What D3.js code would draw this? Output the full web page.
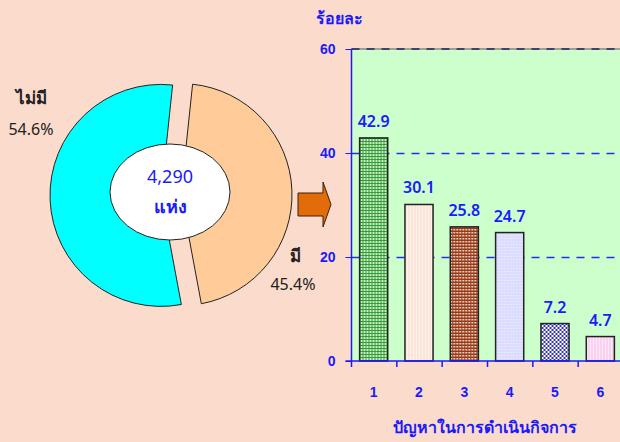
<!DOCTYPE html>
<html>
<head>
<meta charset="utf-8">
<script src="https://cdn.jsdelivr.net/npm/d3@7"></script>
<style>
  body { margin: 0; background: #fbdbcb; }
  svg { display: block; font-family: Tahoma, "Noto Sans", "DejaVu Sans", sans-serif; }
  .axis path, .axis line { stroke: #1a1aff; }
  .axis text { fill: #1a1aff; font-weight: bold; font-size: 14px; }
  .gridline line { stroke: #2a2aff; stroke-dasharray: 8 7; stroke-width: 1.5; }
  .gridline path { display: none; }
</style>
</head>
<body>
<script>
// pie part
const pieLabels = ['มี', 'ไม่มี'];
const pieValues = [45.4, 54.6];
const pieColors = ['#ffcc99', '#00ffff'];
const totalText = '4,290';
const unitText = 'แห่ง';

// bar part
const categories = ['1', '2', '3', '4', '5', '6'];
const values = [42.9, 30.1, 25.8, 24.7, 7.2, 4.7];
const yTicks = [0, 20, 40, 60];
const yTitle = 'ร้อยละ';
const xTitle = 'ปัญหาในการดำเนินกิจการ';

const width = 620, height = 442;
const blue = '#1a1aff';

const svg = d3.select('body').append('svg')
   .attr('width', width)
   .attr('height', height);

svg.append('rect').attr('width', width).attr('height', height).attr('fill', '#fbdbcb');

// fill patterns for the bars
const defs = svg.append('defs');
function pattern(id, size, bg, draw) {
   const p = defs.append('pattern')
      .attr('id', id)
      .attr('patternUnits', 'userSpaceOnUse')
      .attr('width', size).attr('height', size);
   p.append('rect').attr('width', size).attr('height', size).attr('fill', bg);
   draw(p);
}
pattern('p1', 3, '#3a9a3a', p => p.append('rect').attr('width', 2).attr('height', 2).attr('fill', '#c4eec4'));
pattern('p2', 3, '#fff0e8', p => p.append('rect').attr('width', 1).attr('height', 3).attr('fill', '#f8dcd0'));
pattern('p3', 3, '#9a3a14', p => p.append('rect').attr('width', 1.5).attr('height', 1.5).attr('fill', '#ffffff'));
pattern('p4', 3, '#dcdcff', p => p.append('rect').attr('width', 1).attr('height', 1).attr('fill', '#f2f2ff'));
pattern('p5', 4, '#ffffff', p => {
   p.append('rect').attr('width', 2).attr('height', 2).attr('fill', '#2f2fc8');
   p.append('rect').attr('x', 2).attr('y', 2).attr('width', 2).attr('height', 2).attr('fill', '#2f2fc8');
});
pattern('p6', 3, '#ffe8fa', p => p.append('rect').attr('width', 1).attr('height', 3).attr('fill', '#f4bce6'));
const barFills = ['url(#p1)', 'url(#p2)', 'url(#p3)', 'url(#p4)', 'url(#p5)', 'url(#p6)'];

// ---- donut ----
const cx = 171, cy = 195, radius = 111, explode = 10;
const pie = d3.pie().sort(null)
   .startAngle(6 * Math.PI / 180)
   .endAngle(366 * Math.PI / 180);
const arc = d3.arc().innerRadius(0).outerRadius(radius);
const slices = pie(pieValues);

const donut = svg.append('g').attr('transform', `translate(${cx},${cy})`);
donut.selectAll('.slice')
   .data(slices)
   .enter()
   .append('path')
   .classed('slice', true)
   .attr('d', arc)
   .attr('transform', d => {
      const a = (d.startAngle + d.endAngle) / 2;
      return `translate(${explode * Math.sin(a)},${-explode * Math.cos(a)})`;
   })
   .attr('fill', (d, i) => pieColors[i])
   .attr('stroke', '#222')
   .attr('stroke-width', 1);

donut.append('ellipse')
   .attr('cx', -1).attr('cy', -3)
   .attr('rx', 60).attr('ry', 48)
   .attr('fill', '#fff')
   .attr('stroke', '#222');

donut.append('text')
   .attr('x', -1).attr('y', -12)
   .attr('text-anchor', 'middle')
   .attr('fill', blue)
   .style('font-size', '18px')
   .text(totalText);
donut.append('text')
   .attr('x', -1).attr('y', 18)
   .attr('text-anchor', 'middle')
   .attr('fill', blue)
   .style('font-size', '18px')
   .style('font-weight', 'bold')
   .text(unitText);

// slice labels
const labelPos = [{ x: 295, y: 262, px: 293, py: 290 }, { x: 31, y: 104, px: 31, py: 135 }];
slices.forEach((d, i) => {
   svg.append('text')
      .attr('x', labelPos[i].x).attr('y', labelPos[i].y)
      .attr('text-anchor', 'middle')
      .style('font-size', '17px').style('font-weight', 'bold')
      .attr('fill', '#222')
      .text(pieLabels[i]);
   svg.append('text')
      .attr('x', labelPos[i].px).attr('y', labelPos[i].py)
      .attr('text-anchor', 'middle')
      .style('font-size', '16px')
      .attr('fill', '#222')
      .text(d3.format('.1f')(d.data) + '%');
});

// arrow
svg.append('path')
   .attr('d', 'M298,193 L323,193 L323,182 L331,204.5 L323,227 L323,216 L298,216 Z')
   .attr('fill', '#e36c0a')
   .attr('stroke', '#3a2010')
   .attr('stroke-width', 1);

// ---- bar chart ----
const margin = { top: 49, left: 351.5 };
const plotW = 272, plotH = 312;
const chart = svg.append('g').attr('transform', `translate(${margin.left},${margin.top})`);

const xScale = d3.scaleBand().domain(categories).range([0, plotW]);
const yScale = d3.scaleLinear().domain([0, 60]).range([plotH, 0]);

chart.append('rect')
   .attr('width', plotW).attr('height', plotH)
   .attr('fill', '#ccffcc');

const yGrid = d3.axisLeft(yScale)
   .tickValues(yTicks.filter(t => t > 0 && t < 60))
   .tickSize(-plotW)
   .tickFormat('');
chart.append('g').classed('gridline', true).call(yGrid);

// top border of the plot
chart.append('line')
   .attr('x1', 0).attr('x2', plotW)
   .attr('y1', yScale(60)).attr('y2', yScale(60))
   .attr('stroke', '#8d8a80').attr('stroke-width', 1.5);
chart.append('line')
   .attr('x1', 0).attr('x2', plotW)
   .attr('y1', yScale(60)).attr('y2', yScale(60))
   .attr('stroke', '#22226a').attr('stroke-width', 1.5)
   .attr('stroke-dasharray', '8 7');

const barW = xScale.bandwidth() * 0.62;
chart.selectAll('.bar')
   .data(values)
   .enter()
   .append('rect')
   .classed('bar', true)
   .attr('x', (d, i) => xScale(categories[i]) + (xScale.bandwidth() - barW) / 2 - 0.5)
   .attr('y', d => yScale(d))
   .attr('width', barW)
   .attr('height', d => plotH - yScale(d))
   .attr('fill', (d, i) => barFills[i])
   .attr('stroke', '#222')
   .attr('stroke-width', 1.5);

chart.selectAll('.bar-label')
   .data(values)
   .enter()
   .append('text')
   .classed('bar-label', true)
   .attr('x', (d, i) => xScale(categories[i]) + xScale.bandwidth() / 2 - 0.5)
   .attr('y', d => yScale(d))
   .attr('dy', -11)
   .attr('text-anchor', 'middle')
   .attr('fill', blue)
   .style('font-size', '16px')
   .style('font-weight', '600')
   .text(d => d3.format('.1f')(d));

const yAxis = d3.axisLeft(yScale).tickValues(yTicks).tickSize(6).tickPadding(10);
chart.append('g').classed('y axis', true).call(yAxis)
   .call(g => g.select('.domain').attr('d', `M0,${plotH}V0`).attr('stroke-width', 1.5));

const xAxis = d3.axisBottom(xScale).tickSize(0).tickPadding(26);
const xg = chart.append('g').classed('x axis', true)
   .attr('transform', `translate(0,${plotH})`)
   .call(xAxis);
xg.select('.domain').attr('d', `M-6,0H${plotW}`).attr('stroke-width', 1.5);
xg.selectAll('.tick text').attr('dx', -0.5);
// tick marks between categories
xg.selectAll('.sep')
   .data(categories)
   .enter()
   .append('line')
   .attr('x1', d => xScale(d)).attr('x2', d => xScale(d))
   .attr('y1', 0).attr('y2', 6)
   .attr('stroke', blue).attr('stroke-width', 1.5);

svg.append('text')
   .attr('x', 339).attr('y', 24)
   .attr('text-anchor', 'middle')
   .attr('fill', blue)
   .style('font-size', '16px').style('font-weight', 'bold')
   .text(yTitle);

svg.append('text')
   .attr('x', margin.left + plotW / 2 - 3).attr('y', 433)
   .attr('text-anchor', 'middle')
   .attr('fill', blue)
   .style('font-size', '16px')
   .style('font-weight', '600')
   .text(xTitle);
</script>
</body>
</html>
